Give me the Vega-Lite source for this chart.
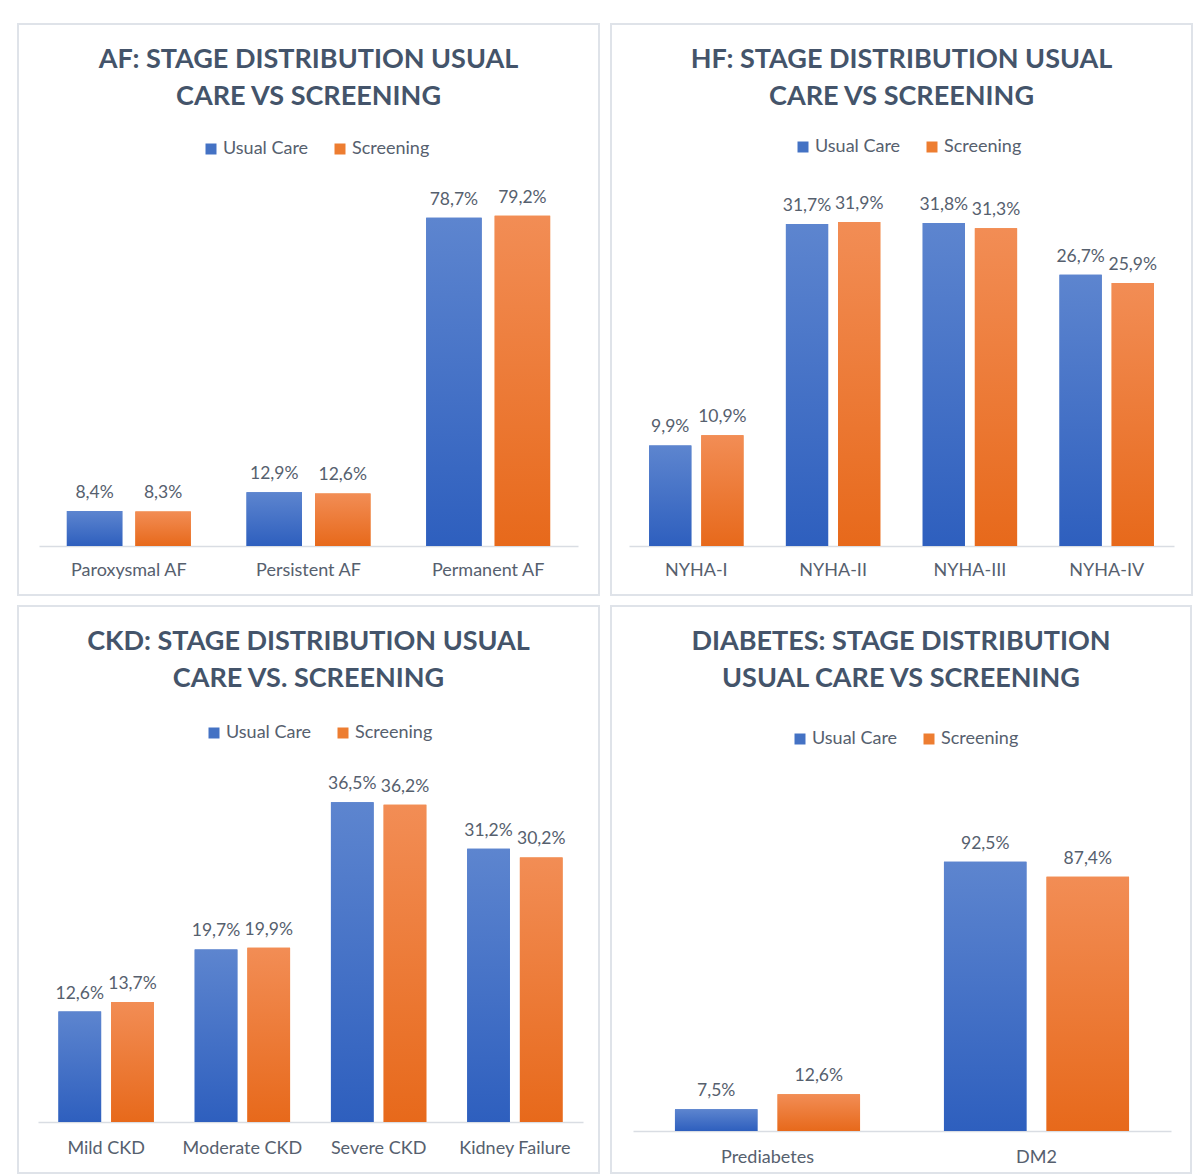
{
  "$schema": "https://vega.github.io/schema/vega-lite/v6.json",
  "padding": {"left": 17, "top": 23, "right": 0, "bottom": 0},
  "background": "#ffffff",
  "config": {
    "locale": {"number": {"decimal": ",", "thousands": ".", "grouping": [3], "currency": ["", " €"]}},
    "font": "Lato",
    "view": {"stroke": "#dfe3e9", "strokeWidth": 2},
    "title": {"color": "#44546A", "fontSize": 27, "fontWeight": "bold", "lineHeight": 37, "anchor": "middle", "offset": -87, "font": "Lato"},
    "axisX": {"title": null, "ticks": false, "grid": false, "domainColor": "#d9dde3", "domainWidth": 1.5, "labelFontSize": 18, "labelColor": "#56606e", "labelAngle": 0, "labelBaseline": "middle", "labelPadding": 24, "labelFont": "Lato"},
    "legend": {"orient": "none", "direction": "horizontal", "title": null, "symbolType": "square", "symbolSize": 121, "symbolStrokeWidth": 0, "labelFontSize": 18, "labelColor": "#56606e", "labelFont": "Lato", "labelOffset": 3, "columnPadding": 22, "padding": 0},
    "text": {"font": "Lato", "fontSize": 17.5, "fill": "#56606e"}
  },
  "datasets": {
    "af": [
      {"stage": "Paroxysmal AF", "group": "Usual Care", "v": 0.084},
      {"stage": "Paroxysmal AF", "group": "Screening", "v": 0.083},
      {"stage": "Persistent AF", "group": "Usual Care", "v": 0.129},
      {"stage": "Persistent AF", "group": "Screening", "v": 0.126},
      {"stage": "Permanent AF", "group": "Usual Care", "v": 0.787},
      {"stage": "Permanent AF", "group": "Screening", "v": 0.792}
    ],
    "hf": [
      {"stage": "NYHA-I", "group": "Usual Care", "v": 0.099},
      {"stage": "NYHA-I", "group": "Screening", "v": 0.109},
      {"stage": "NYHA-II", "group": "Usual Care", "v": 0.317},
      {"stage": "NYHA-II", "group": "Screening", "v": 0.319},
      {"stage": "NYHA-III", "group": "Usual Care", "v": 0.318},
      {"stage": "NYHA-III", "group": "Screening", "v": 0.313},
      {"stage": "NYHA-IV", "group": "Usual Care", "v": 0.267},
      {"stage": "NYHA-IV", "group": "Screening", "v": 0.259}
    ],
    "ckd": [
      {"stage": "Mild CKD", "group": "Usual Care", "v": 0.126},
      {"stage": "Mild CKD", "group": "Screening", "v": 0.137},
      {"stage": "Moderate CKD", "group": "Usual Care", "v": 0.197},
      {"stage": "Moderate CKD", "group": "Screening", "v": 0.199},
      {"stage": "Severe CKD", "group": "Usual Care", "v": 0.365},
      {"stage": "Severe CKD", "group": "Screening", "v": 0.362},
      {"stage": "Kidney Failure", "group": "Usual Care", "v": 0.312},
      {"stage": "Kidney Failure", "group": "Screening", "v": 0.302}
    ],
    "dm": [
      {"stage": "Prediabetes", "group": "Usual Care", "v": 0.075},
      {"stage": "Prediabetes", "group": "Screening", "v": 0.126},
      {"stage": "DM2", "group": "Usual Care", "v": 0.925},
      {"stage": "DM2", "group": "Screening", "v": 0.874}
    ]
  },
  "columns": 2,
  "spacing": {"row": 9, "column": 10},
  "resolve": {"scale": {"color": "independent", "xOffset": "independent", "x": "independent", "y": "independent"}, "legend": {"color": "independent"}},
  "concat": [
    {
      "width": 581, "height": 571,
      "title": {"text": ["AF: STAGE DISTRIBUTION USUAL", "CARE VS SCREENING"]},
      "data": {"name": "af"},
      "encoding": {
        "x": {"field": "stage", "type": "nominal", "sort": null, "scale": {"range": [21, 560], "paddingInner": 0.31, "paddingOuter": 0.155}, "axis": {"offset": -49}},
        "xOffset": {"field": "group", "type": "nominal", "scale": {"domain": ["Usual Care", "Screening"], "paddingInner": 0.19, "paddingOuter": 0}},
        "y": {"field": "v", "type": "quantitative", "scale": {"domain": [0, 1.252], "range": [522, 0], "zero": true, "nice": false}, "axis": null}
      },
      "layer": [
        {"mark": {"type": "bar"}, "encoding": {"color": {"field": "group", "type": "nominal", "scale": {"domain": ["Usual Care", "Screening"], "range": ["#4472C4", "#ED7D31"]}, "legend": {"legendX": 184, "legendY": 116}}}},
        {"transform": [{"filter": "datum.group === 'Usual Care'"}], "mark": {"type": "bar", "color": {"gradient": "linear", "x1": 0, "y1": 0, "x2": 0, "y2": 1, "stops": [{"offset": 0, "color": "#5d85cf"}, {"offset": 1, "color": "#2e5fbe"}]}}},
        {"transform": [{"filter": "datum.group === 'Screening'"}], "mark": {"type": "bar", "color": {"gradient": "linear", "x1": 0, "y1": 0, "x2": 0, "y2": 1, "stops": [{"offset": 0, "color": "#f28d55"}, {"offset": 1, "color": "#e7691b"}]}}},
        {"mark": {"type": "text", "baseline": "alphabetic", "dy": -13}, "encoding": {"text": {"field": "v", "type": "quantitative", "format": ".1%"}}}
      ]
    },
    {
      "width": 581, "height": 571,
      "title": {"text": ["HF: STAGE DISTRIBUTION USUAL", "CARE VS SCREENING"]},
      "data": {"name": "hf"},
      "encoding": {
        "x": {"field": "stage", "type": "nominal", "sort": null, "scale": {"range": [18, 563], "paddingInner": 0.31, "paddingOuter": 0.147}, "axis": {"offset": -49}},
        "xOffset": {"field": "group", "type": "nominal", "scale": {"domain": ["Usual Care", "Screening"], "paddingInner": 0.19, "paddingOuter": 0}},
        "y": {"field": "v", "type": "quantitative", "scale": {"domain": [0, 0.514], "range": [522, 0], "zero": true, "nice": false}, "axis": null}
      },
      "layer": [
        {"mark": {"type": "bar"}, "encoding": {"color": {"field": "group", "type": "nominal", "scale": {"domain": ["Usual Care", "Screening"], "range": ["#4472C4", "#ED7D31"]}, "legend": {"legendX": 183, "legendY": 114}}}},
        {"transform": [{"filter": "datum.group === 'Usual Care'"}], "mark": {"type": "bar", "color": {"gradient": "linear", "x1": 0, "y1": 0, "x2": 0, "y2": 1, "stops": [{"offset": 0, "color": "#5d85cf"}, {"offset": 1, "color": "#2e5fbe"}]}}},
        {"transform": [{"filter": "datum.group === 'Screening'"}], "mark": {"type": "bar", "color": {"gradient": "linear", "x1": 0, "y1": 0, "x2": 0, "y2": 1, "stops": [{"offset": 0, "color": "#f28d55"}, {"offset": 1, "color": "#e7691b"}]}}},
        {"mark": {"type": "text", "baseline": "alphabetic", "dy": -13}, "encoding": {"text": {"field": "v", "type": "quantitative", "format": ".1%"}}}
      ]
    },
    {
      "width": 581, "height": 567,
      "title": {"text": ["CKD: STAGE DISTRIBUTION USUAL", "CARE VS. SCREENING"]},
      "data": {"name": "ckd"},
      "encoding": {
        "x": {"field": "stage", "type": "nominal", "sort": null, "scale": {"range": [20, 565], "paddingInner": 0.3, "paddingOuter": 0.15}, "axis": {"offset": -51, "labelPadding": 26}},
        "xOffset": {"field": "group", "type": "nominal", "scale": {"domain": ["Usual Care", "Screening"], "paddingInner": 0.19, "paddingOuter": 0}},
        "y": {"field": "v", "type": "quantitative", "scale": {"domain": [0, 0.589], "range": [516, 0], "zero": true, "nice": false}, "axis": null}
      },
      "layer": [
        {"mark": {"type": "bar"}, "encoding": {"color": {"field": "group", "type": "nominal", "scale": {"domain": ["Usual Care", "Screening"], "range": ["#4472C4", "#ED7D31"]}, "legend": {"legendX": 187, "legendY": 118}}}},
        {"transform": [{"filter": "datum.group === 'Usual Care'"}], "mark": {"type": "bar", "color": {"gradient": "linear", "x1": 0, "y1": 0, "x2": 0, "y2": 1, "stops": [{"offset": 0, "color": "#5d85cf"}, {"offset": 1, "color": "#2e5fbe"}]}}},
        {"transform": [{"filter": "datum.group === 'Screening'"}], "mark": {"type": "bar", "color": {"gradient": "linear", "x1": 0, "y1": 0, "x2": 0, "y2": 1, "stops": [{"offset": 0, "color": "#f28d55"}, {"offset": 1, "color": "#e7691b"}]}}},
        {"mark": {"type": "text", "baseline": "alphabetic", "dy": -13}, "encoding": {"text": {"field": "v", "type": "quantitative", "format": ".1%"}}}
      ]
    },
    {
      "width": 580, "height": 567,
      "title": {"text": ["DIABETES: STAGE DISTRIBUTION", "USUAL CARE VS SCREENING"]},
      "data": {"name": "dm"},
      "encoding": {
        "x": {"field": "stage", "type": "nominal", "sort": null, "scale": {"range": [22, 560], "paddingInner": 0.312, "paddingOuter": 0.156}, "axis": {"offset": -42, "labelPadding": 26}},
        "xOffset": {"field": "group", "type": "nominal", "scale": {"domain": ["Usual Care", "Screening"], "paddingInner": 0.196, "paddingOuter": 0}},
        "y": {"field": "v", "type": "quantitative", "scale": {"domain": [0, 1.804], "range": [525, 0], "zero": true, "nice": false}, "axis": null}
      },
      "layer": [
        {"mark": {"type": "bar"}, "encoding": {"color": {"field": "group", "type": "nominal", "scale": {"domain": ["Usual Care", "Screening"], "range": ["#4472C4", "#ED7D31"]}, "legend": {"legendX": 180, "legendY": 124}}}},
        {"transform": [{"filter": "datum.group === 'Usual Care'"}], "mark": {"type": "bar", "color": {"gradient": "linear", "x1": 0, "y1": 0, "x2": 0, "y2": 1, "stops": [{"offset": 0, "color": "#5d85cf"}, {"offset": 1, "color": "#2e5fbe"}]}}},
        {"transform": [{"filter": "datum.group === 'Screening'"}], "mark": {"type": "bar", "color": {"gradient": "linear", "x1": 0, "y1": 0, "x2": 0, "y2": 1, "stops": [{"offset": 0, "color": "#f28d55"}, {"offset": 1, "color": "#e7691b"}]}}},
        {"mark": {"type": "text", "baseline": "alphabetic", "dy": -13}, "encoding": {"text": {"field": "v", "type": "quantitative", "format": ".1%"}}}
      ]
    }
  ]
}
